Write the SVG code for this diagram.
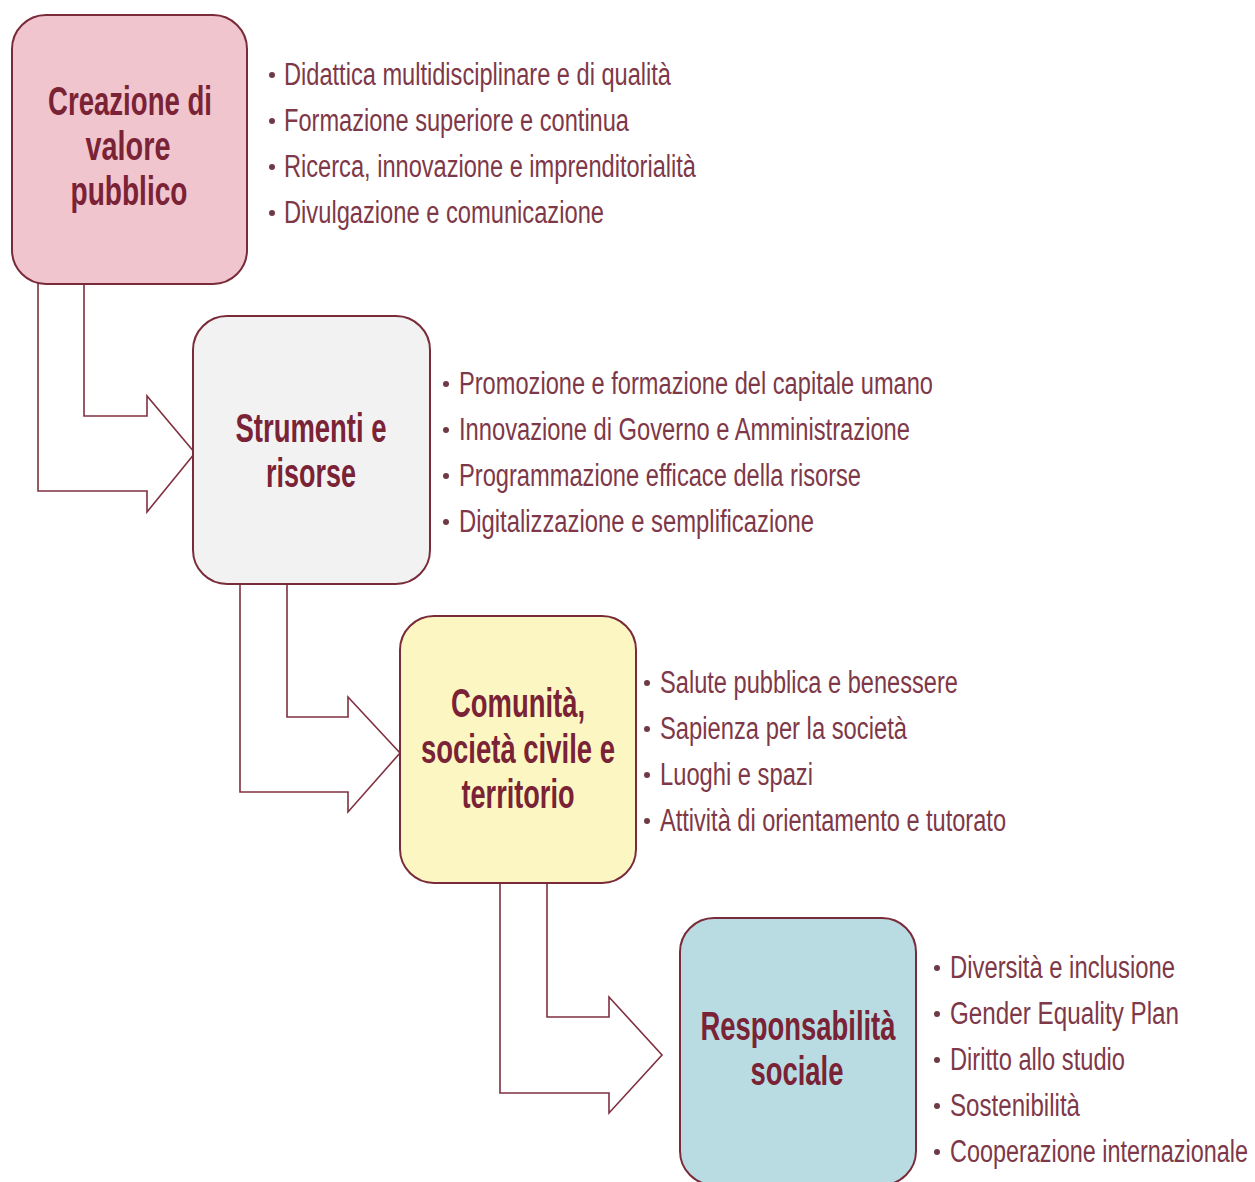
<svg xmlns="http://www.w3.org/2000/svg" width="1255" height="1182" viewBox="0 0 1255 1182">
<style>
.box{stroke:#7a2b3a;stroke-width:2}
.arrow{fill:#ffffff;stroke:#7f3040;stroke-width:1.6;stroke-linejoin:miter}
.title{font-family:"Liberation Sans",Arial,sans-serif;font-weight:bold;font-size:41px;fill:#7a2236;text-anchor:middle}
.item{font-family:"Liberation Sans",Arial,sans-serif;font-size:31px;fill:#7e3848}
.bul{fill:#6e3a46}
</style>
<rect width="1255" height="1182" fill="#ffffff"/>
<g id="connectors">
<polygon class="arrow" points="38,283 38,491 147,491 147,512 195,453 147,396 147,416 84,416 84,283"/>
<polygon class="arrow" points="240,583 240,792 348,792 348,812 400,753 348,697 348,717 287,717 287,583"/>
<polygon class="arrow" points="500,882 500,1093 609,1093 609,1113 662,1055 609,997 609,1017 547,1017 547,882"/>
</g>
<g id="node1">
<rect class="box" x="12" y="15" width="235" height="269" rx="34" fill="#f1c5cd"/>
<text class="title" x="130" y="115" textLength="164" lengthAdjust="spacingAndGlyphs">Creazione di</text>
<text class="title" x="128" y="160" textLength="85" lengthAdjust="spacingAndGlyphs">valore</text>
<text class="title" x="129" y="205" textLength="117" lengthAdjust="spacingAndGlyphs">pubblico</text>
</g>
<g id="list1">
<circle class="bul" cx="272" cy="75" r="3"/>
<text class="item" x="284" y="85" textLength="387" lengthAdjust="spacingAndGlyphs">Didattica multidisciplinare e di qualità</text>
<circle class="bul" cx="272" cy="121" r="3"/>
<text class="item" x="284" y="131" textLength="345" lengthAdjust="spacingAndGlyphs">Formazione superiore e continua</text>
<circle class="bul" cx="272" cy="167" r="3"/>
<text class="item" x="284" y="177" textLength="412" lengthAdjust="spacingAndGlyphs">Ricerca, innovazione e imprenditorialità</text>
<circle class="bul" cx="272" cy="213" r="3"/>
<text class="item" x="284" y="223" textLength="320" lengthAdjust="spacingAndGlyphs">Divulgazione e comunicazione</text>
</g>
<g id="node2">
<rect class="box" x="193" y="316" width="237" height="268" rx="34" fill="#f2f2f2"/>
<text class="title" x="311" y="442" textLength="151" lengthAdjust="spacingAndGlyphs">Strumenti e</text>
<text class="title" x="311" y="487" textLength="90" lengthAdjust="spacingAndGlyphs">risorse</text>
</g>
<g id="list2">
<circle class="bul" cx="446" cy="384" r="3"/>
<text class="item" x="459" y="394" textLength="474" lengthAdjust="spacingAndGlyphs">Promozione e formazione del capitale umano</text>
<circle class="bul" cx="446" cy="430" r="3"/>
<text class="item" x="459" y="440" textLength="451" lengthAdjust="spacingAndGlyphs">Innovazione di Governo e Amministrazione</text>
<circle class="bul" cx="446" cy="476" r="3"/>
<text class="item" x="459" y="486" textLength="402" lengthAdjust="spacingAndGlyphs">Programmazione efficace della risorse</text>
<circle class="bul" cx="446" cy="522" r="3"/>
<text class="item" x="459" y="532" textLength="355" lengthAdjust="spacingAndGlyphs">Digitalizzazione e semplificazione</text>
</g>
<g id="node3">
<rect class="box" x="400" y="616" width="236" height="267" rx="34" fill="#fcf7c2"/>
<text class="title" x="518" y="717" textLength="134" lengthAdjust="spacingAndGlyphs">Comunità,</text>
<text class="title" x="518" y="763" textLength="194" lengthAdjust="spacingAndGlyphs">società civile e</text>
<text class="title" x="518" y="808" textLength="113" lengthAdjust="spacingAndGlyphs">territorio</text>
</g>
<g id="list3">
<circle class="bul" cx="647" cy="683" r="3"/>
<text class="item" x="660" y="693" textLength="298" lengthAdjust="spacingAndGlyphs">Salute pubblica e benessere</text>
<circle class="bul" cx="647" cy="729" r="3"/>
<text class="item" x="660" y="739" textLength="247" lengthAdjust="spacingAndGlyphs">Sapienza per la società</text>
<circle class="bul" cx="647" cy="775" r="3"/>
<text class="item" x="660" y="785" textLength="153" lengthAdjust="spacingAndGlyphs">Luoghi e spazi</text>
<circle class="bul" cx="647" cy="821" r="3"/>
<text class="item" x="660" y="831" textLength="346" lengthAdjust="spacingAndGlyphs">Attività di orientamento e tutorato</text>
</g>
<g id="node4">
<rect class="box" x="680" y="918" width="236" height="267" rx="34" fill="#b9dce2"/>
<text class="title" x="798" y="1040" textLength="195" lengthAdjust="spacingAndGlyphs">Responsabilità</text>
<text class="title" x="797" y="1085" textLength="93" lengthAdjust="spacingAndGlyphs">sociale</text>
</g>
<g id="list4">
<circle class="bul" cx="937" cy="968" r="3"/>
<text class="item" x="950" y="978" textLength="225" lengthAdjust="spacingAndGlyphs">Diversità e inclusione</text>
<circle class="bul" cx="937" cy="1014" r="3"/>
<text class="item" x="950" y="1024" textLength="229" lengthAdjust="spacingAndGlyphs">Gender Equality  Plan</text>
<circle class="bul" cx="937" cy="1060" r="3"/>
<text class="item" x="950" y="1070" textLength="175" lengthAdjust="spacingAndGlyphs">Diritto allo studio</text>
<circle class="bul" cx="937" cy="1106" r="3"/>
<text class="item" x="950" y="1116" textLength="130" lengthAdjust="spacingAndGlyphs">Sostenibilità</text>
<circle class="bul" cx="937" cy="1152" r="3"/>
<text class="item" x="950" y="1162" textLength="298" lengthAdjust="spacingAndGlyphs">Cooperazione internazionale</text>
</g>
</svg>
